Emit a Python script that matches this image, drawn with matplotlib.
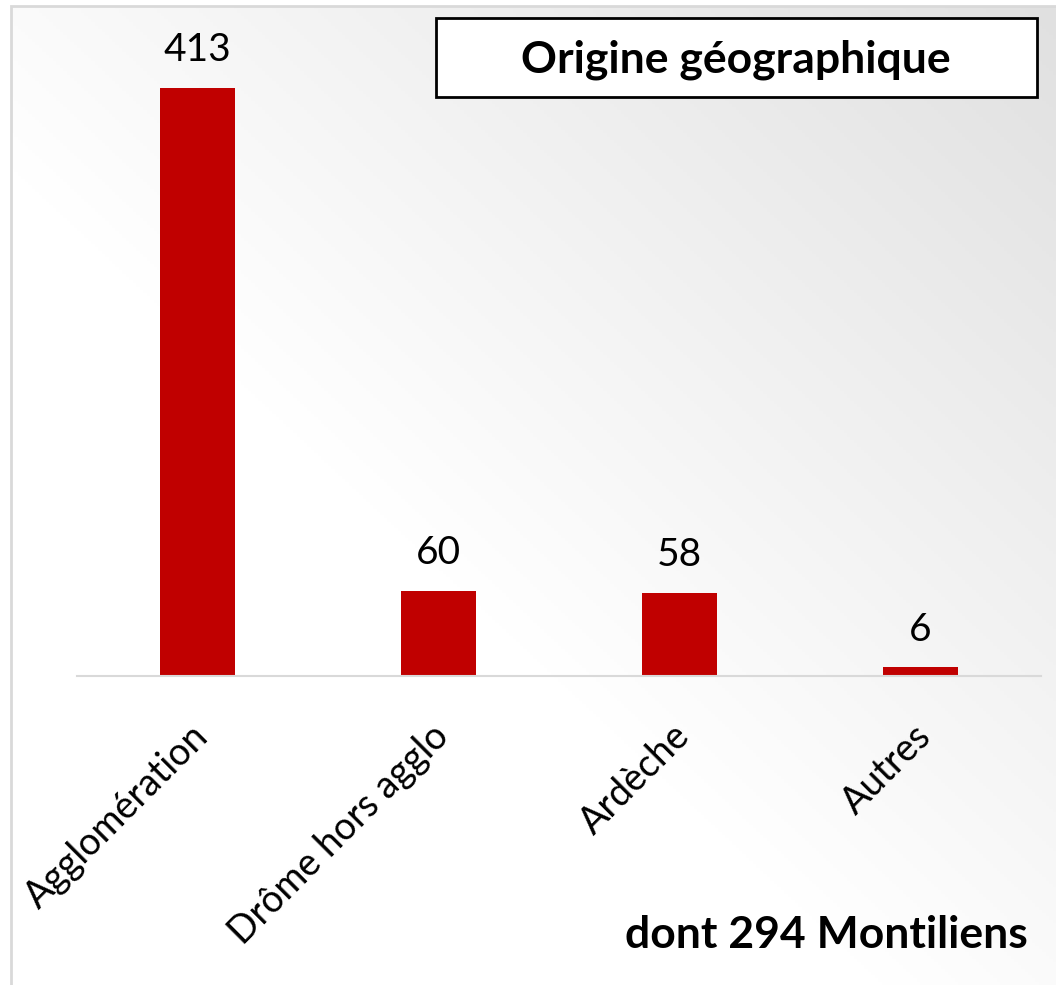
import numpy as np
import matplotlib
matplotlib.use("Agg")
import matplotlib.pyplot as plt
import matplotlib.transforms as mtransforms
from matplotlib.patches import Rectangle

# données
categories = ['Agglomération', 'Drôme hors agglo', 'Ardèche', 'Autres']
valeurs = [413, 60, 58, 6]
titre = 'Origine géographique'
note = 'dont 294 Montiliens'

plt.rcParams['font.family'] = ['Lato', 'DejaVu Sans']

W, H = 1056, 985
fig = plt.figure(figsize=(W / 100, H / 100), dpi=100)

# fond dégradé (blanc en bas à gauche, gris en haut à droite)
bg = fig.add_axes([11 / W, 0, 1 - 11 / W, 1 - 6 / H], zorder=-10)
u = np.linspace(0, 1, 300)
v = np.linspace(1, 0, 300)
U, V = np.meshgrid(u, v)
d = np.clip(0.6 * U + 0.6 * V - 0.5, 0, 1) * 44
img = (255 - d) / 255
bg.imshow(np.dstack([img, img, img]), aspect='auto', extent=[0, 1, 0, 1])
bg.axis('off')
fig.patches.append(Rectangle((11 / W, -0.1), 2, 1.1 - 6 / H, transform=fig.transFigure,
                             fill=False, edgecolor='#d9d9d9', linewidth=2, zorder=-5))

# zone du graphique
x0, x1 = 77, 1041
y_base, y_top = 676, 20
ax = fig.add_axes([x0 / W, 1 - y_base / H, (x1 - x0) / W, (y_base - y_top) / H])
ax.patch.set_alpha(0)
x = np.arange(len(categories))
bars = ax.bar(x, valeurs, width=0.31, color='#C00000')
ax.set_xlim(-0.5, len(categories) - 0.5)
ax.set_ylim(0, 460.8)
for b, val in zip(bars, valeurs):
    ax.text(b.get_x() + b.get_width() / 2, val + 14, str(val), ha='center', va='bottom',
            fontsize=28, color='black')

for s in ['top', 'right', 'left']:
    ax.spines[s].set_visible(False)
ax.spines['bottom'].set_color('#d9d9d9')
ax.spines['bottom'].set_linewidth(1.5)
ax.set_yticks([])
ax.set_xticks(x)
ax.set_xticklabels(categories, rotation=45, ha='right', rotation_mode='anchor', fontsize=27)
ax.tick_params(axis='x', length=0, pad=30)
decal = mtransforms.ScaledTranslation(-0.08, 0.0, fig.dpi_scale_trans)
for lab in ax.get_xticklabels():
    lab.set_transform(lab.get_transform() + decal)

# titre encadré
fig.patches.append(Rectangle((436 / W, 1 - 97 / H), (1037 - 436) / W, 79 / H,
                             transform=fig.transFigure, facecolor='white',
                             edgecolor='black', linewidth=2, zorder=5))
fig.text(736 / W, 1 - 60 / H, titre, ha='center', va='center', fontsize=32,
         fontweight='bold', zorder=6)

fig.text(1028 / W, 1 - 935 / H, note, ha='right', va='center', fontsize=32, fontweight='bold')

fig.savefig('out.png', dpi=100)
